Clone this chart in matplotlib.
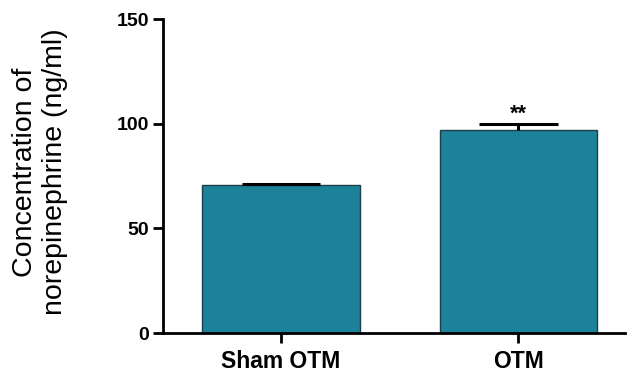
import numpy as np
import matplotlib
matplotlib.use('Agg')
import matplotlib.pyplot as plt

# datos
grupos = ['Sham OTM', 'OTM']
media = [70.8, 97.0]
error = [0.6, 2.8]
marcas = ['', '**']

plt.rcParams['font.family'] = ['Liberation Sans', 'DejaVu Sans']

fig = plt.figure(figsize=(6.33, 3.73), dpi=100)
ax = fig.add_axes([163/633, 1 - 333/373, (625 - 163)/633, (333 - 19)/373])

x = np.arange(len(grupos))
ancho = 0.663
ax.bar(x, media, width=ancho, color='#1b8299', edgecolor='#1d3f4a', linewidth=1, zorder=2)

# barras de error solo hacia arriba (estilo GraphPad)
tope = np.array(media) + np.array(error)
ax.vlines(x, media, tope, color='black', linewidth=2.2, zorder=3)
ax.hlines(tope, x - ancho/4, x + ancho/4, color='black', linewidth=2.2, zorder=3)

for xi, t, s in zip(x, tope, marcas):
    if s:
        ax.annotate(s, (xi, t), xytext=(0, 3), textcoords='offset points',
                    ha='center', va='baseline', fontsize=15.5, fontweight='bold')

ax.set_xlim(-0.498, 1.45)
ax.set_ylim(0, 150)
ax.set_yticks([0, 50, 100, 150])
ax.set_xticks(x)
ax.set_xticklabels(grupos)

for lado in ['top', 'right']:
    ax.spines[lado].set_visible(False)
for lado in ['left', 'bottom']:
    ax.spines[lado].set_linewidth(2)

ax.tick_params(axis='y', length=7, width=2, pad=3, labelsize=14)
ax.tick_params(axis='x', length=7, width=2, pad=5, labelsize=16.5)
for t in ax.get_xticklabels() + ax.get_yticklabels():
    t.set_fontweight('bold')

fig.text(40/633, 1 - 172/373, 'Concentration of\nnorepinephrine (ng/ml)', rotation=90,
         ha='center', va='center', multialignment='center', fontsize=20.5,
         linespacing=1.15)

fig.savefig('out.png', dpi=100)
